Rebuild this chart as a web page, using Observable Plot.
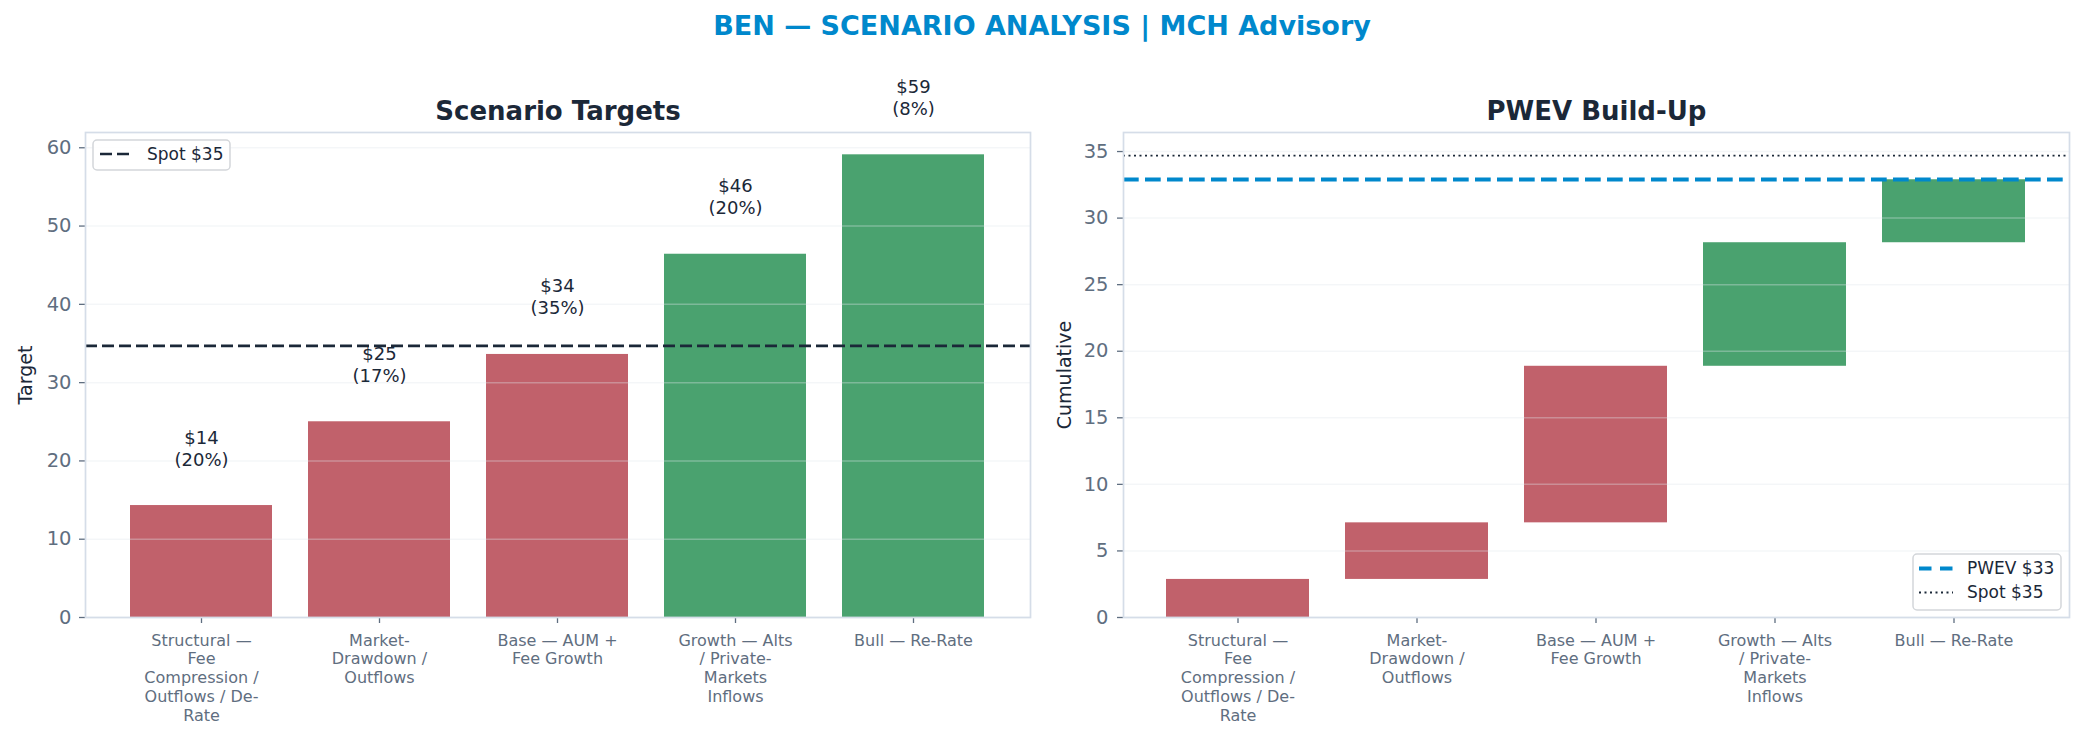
<!DOCTYPE html>
<html>
<head>
<meta charset="utf-8">
<script src="https://cdn.jsdelivr.net/npm/d3@7"></script>
<script src="https://cdn.jsdelivr.net/npm/@observablehq/plot@0.6"></script>
<style>
  html, body { margin: 0; padding: 0; background: #ffffff; }
  #wrap { position: relative; width: 2084px; height: 742px; font-family: "DejaVu Sans", sans-serif; }
  #left, #right { position: absolute; top: 0; }
  #left { left: 0; }
  #right { left: 1042px; }
  #overlay { position: absolute; left: 0; top: 0; pointer-events: none; }
</style>
</head>
<body>
<div id="wrap">
  <div id="left"></div>
  <div id="right"></div>
  <svg id="overlay" width="2084" height="742" font-family="DejaVu Sans, sans-serif">
    <text x="1042" y="35" text-anchor="middle" font-size="27" font-weight="bold" fill="#0088cc">BEN — SCENARIO ANALYSIS | MCH Advisory</text>
    <!-- left legend -->
    <rect x="93" y="140" width="137" height="30" rx="4" fill="#ffffff" fill-opacity="0.85" stroke="#d3d6da" stroke-width="1.5"></rect>
    <line x1="100" x2="133" y1="154" y2="154" stroke="#1b2838" stroke-width="2.7" stroke-dasharray="12,5"></line>
    <text x="147" y="160" font-size="17" fill="#1b2838">Spot $35</text>
    <!-- right legend -->
    <rect x="1913" y="554" width="148" height="56" rx="4" fill="#ffffff" fill-opacity="0.85" stroke="#d3d6da" stroke-width="1.5"></rect>
    <line x1="1919" x2="1953" y1="568.5" y2="568.5" stroke="#0088cc" stroke-width="4" stroke-dasharray="12.5,8.5"></line>
    <text x="1967" y="574" font-size="17" fill="#1b2838">PWEV $33</text>
    <line x1="1919" x2="1953" y1="592.5" y2="592.5" stroke="#1b2838" stroke-width="1.8" stroke-dasharray="2,3.5"></line>
    <text x="1967" y="598" font-size="17" fill="#1b2838">Spot $35</text>
  </svg>
</div>
<script>
// ---- data ----
const categories = [
  "Structural — Fee Compression / Outflows / De-Rate",
  "Market-Drawdown / Outflows",
  "Base — AUM + Fee Growth",
  "Growth — Alts / Private-Markets Inflows",
  "Bull — Re-Rate"
];
const tickLabels = [
  "Structural —\nFee\nCompression /\nOutflows / De-\nRate",
  "Market-\nDrawdown /\nOutflows",
  "Base — AUM +\nFee Growth",
  "Growth — Alts\n/ Private-\nMarkets\nInflows",
  "Bull — Re-Rate"
];
const targets = [14.3, 25.0, 33.6, 46.4, 59.1];
const probabilities = [20, 17, 35, 20, 8];
const contributions = [2.86, 4.25, 11.76, 9.28, 4.73];
const spot = 34.7;
const pwev = 32.9;
const leftTicks = [0, 10, 20, 30, 40, 50, 60];
const rightTicks = [0, 5, 10, 15, 20, 25, 30, 35];

const RED = "#c1616b", GREEN = "#4aa26f";
const INK = "#1b2838", TICK = "#5f6e80", SPINE = "#d5dde8";

const cum = Array.from(d3.cumsum(contributions));
const rows = categories.map((c, i) => ({
  cat: c,
  target: targets[i],
  prob: probabilities[i],
  start: i === 0 ? 0 : cum[i - 1],
  end: cum[i],
  color: targets[i] < spot ? RED : GREEN,
  label: `$${d3.format(".0f")(targets[i])}\n(${probabilities[i]}%)`
}));
const tickMap = new Map(categories.map((c, i) => [c, tickLabels[i]]));

const common = {
  width: 1042,
  height: 742,
  marginTop: 132,
  marginBottom: 125,
  style: {fontFamily: "DejaVu Sans, sans-serif", background: "transparent"},
  color: {type: "identity"},
  x: {domain: categories, paddingInner: 0.2, paddingOuter: 0.24, align: 0.5}
};

const left = Plot.plot({
  ...common,
  marginLeft: 85,
  marginRight: 12,
  y: {domain: [0, 61.95]},
  marks: [
    Plot.barY(rows, {x: "cat", y: "target", fill: "color"}),
    Plot.gridY(leftTicks, {stroke: "#dfe5ec", strokeOpacity: 0.35, strokeWidth: 1.5}),
    Plot.ruleY([spot], {stroke: INK, strokeWidth: 2.7, strokeDasharray: "12,5"}),
    Plot.text(rows, {x: "cat", y: "target", text: "label", lineAnchor: "bottom", dy: -40, fontSize: 18, lineHeight: 1.22, fill: INK}),
    Plot.axisY({ticks: leftTicks, tickSize: 6, tickPadding: 8, fontSize: 19.5, color: TICK, strokeWidth: 1.3, label: null}),
    Plot.axisX({tickSize: 6, tickPadding: 8.5, fontSize: 16, lineHeight: 1.1875, color: TICK, strokeWidth: 1.3, tickFormat: d => tickMap.get(d), label: null}),
    Plot.text(["Target"], {frameAnchor: "left", textAnchor: "middle", rotate: -90, dx: -60, fontSize: 19, fill: INK}),
    Plot.text(["Scenario Targets"], {frameAnchor: "top", lineAnchor: "bottom", dy: -13, fontSize: 26, fontWeight: "bold", fill: INK}),
    Plot.frame({stroke: SPINE, strokeWidth: 1.7})
  ]
});
document.getElementById("left").appendChild(left);

const right = Plot.plot({
  ...common,
  marginLeft: 81,
  marginRight: 15,
  y: {domain: [0, 36.43]},
  marks: [
    Plot.barY(rows, {x: "cat", y1: "start", y2: "end", fill: "color"}),
    Plot.gridY(rightTicks, {stroke: "#dfe5ec", strokeOpacity: 0.35, strokeWidth: 1.5}),
    Plot.ruleY([pwev], {stroke: "#0088cc", strokeWidth: 4, strokeDasharray: "15.7,6.3"}),
    Plot.ruleY([spot], {stroke: INK, strokeWidth: 1.8, strokeDasharray: "2,3.5"}),
    Plot.axisY({ticks: rightTicks, tickSize: 6, tickPadding: 9, fontSize: 19.5, color: TICK, strokeWidth: 1.3, label: null}),
    Plot.axisX({tickSize: 6, tickPadding: 8.5, fontSize: 16, lineHeight: 1.1875, color: TICK, strokeWidth: 1.3, tickFormat: d => tickMap.get(d), label: null}),
    Plot.text(["Cumulative"], {frameAnchor: "left", textAnchor: "middle", rotate: -90, dx: -59, fontSize: 19, fill: INK}),
    Plot.text(["PWEV Build-Up"], {frameAnchor: "top", lineAnchor: "bottom", dy: -13, fontSize: 26, fontWeight: "bold", fill: INK}),
    Plot.frame({stroke: SPINE, strokeWidth: 1.7})
  ]
});
document.getElementById("right").appendChild(right);
</script>
</body>
</html>
